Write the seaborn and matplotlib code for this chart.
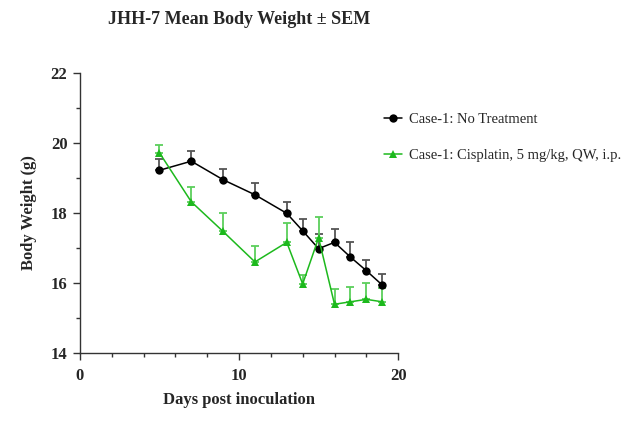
import numpy as np
import pandas as pd
import matplotlib
matplotlib.use("Agg")
import matplotlib.pyplot as plt
import seaborn as sns

# values
days = [5, 7, 9, 11, 13, 14, 15, 16, 17, 18, 19]
ctrl_mean = [19.22, 19.48, 18.95, 18.52, 17.99, 17.49, 16.98, 17.16, 16.74, 16.35, 15.94]
ctrl_sem = [0.31, 0.30, 0.30, 0.33, 0.33, 0.34, 0.41, 0.37, 0.44, 0.30, 0.32]
cis_mean = [19.72, 18.32, 17.47, 16.60, 17.16, 15.97, 17.29, 15.39, 15.46, 15.53, 15.46]
cis_sem = [0.22, 0.43, 0.52, 0.46, 0.56, 0.26, 0.59, 0.45, 0.41, 0.48, 0.40]

groups = ["Case-1: No Treatment", "Case-1: Cisplatin, 5 mg/kg, QW, i.p."]
colors = ["#000000", "#1DB91D"]
bar_colors = ["#555555", "#5CCF5C"]
markers = ["o", "^"]

df = pd.concat([
    pd.DataFrame({"day": days, "weight": ctrl_mean, "sem": ctrl_sem, "group": groups[0]}),
    pd.DataFrame({"day": days, "weight": cis_mean, "sem": cis_sem, "group": groups[1]}),
], ignore_index=True)

sns.set_style("ticks")
plt.rcParams["font.family"] = ["Liberation Serif", "DejaVu Serif"]

fig = plt.figure(figsize=(6.29, 4.4), dpi=100)
ax = fig.add_axes([0.127, 0.198, 0.506, 0.636])

# upper-only error bars first so lines sit on top
for g, bc in zip(groups, bar_colors):
    sub = df[df["group"] == g]
    ax.errorbar(sub["day"], sub["weight"], yerr=[np.zeros(len(sub)), sub["sem"]],
                fmt="none", ecolor=bc, elinewidth=1.3, capsize=3, capthick=1.3, zorder=2)

sns.lineplot(data=df, x="day", y="weight", hue="group", style="group",
             palette=dict(zip(groups, colors)), markers=dict(zip(groups, markers)),
             dashes=False, markersize=6, markeredgewidth=0, linewidth=1.1,
             ax=ax, zorder=3)

ax.set_xlim(0, 20)
ax.set_ylim(14, 22)
ax.set_xticks([0, 10, 20])
ax.set_xticks(np.arange(0, 21, 2), minor=True)
ax.set_yticks([14, 16, 18, 20, 22])
ax.set_yticks(np.arange(15, 22, 2), minor=True)
for s in ["left", "bottom"]:
    ax.spines[s].set_color("#333333")
    ax.spines[s].set_linewidth(1.0)
sns.despine(ax=ax)
ax.tick_params(axis="both", which="major", length=5, width=1.0, color="#333333",
               labelsize=12, pad=4)
ax.tick_params(axis="x", which="major", pad=6)
ax.tick_params(axis="both", which="minor", length=3, width=1.0, color="#333333")
for lab in ax.get_xticklabels() + ax.get_yticklabels():
    lab.set_fontweight("bold")

ax.set_xlabel("Days post inoculation", fontsize=12, fontweight="bold", labelpad=6)
ax.set_ylabel("Body Weight (g)", fontsize=12, fontweight="bold", labelpad=10)
ax.set_title("JHH-7 Mean Body Weight \u00b1 SEM", fontsize=13, fontweight="bold", pad=35)

handles, labels = ax.get_legend_handles_labels()
ax.get_legend().remove()
fig.legend(handles, labels, loc="upper left", bbox_to_anchor=(0.601, 0.757),
           frameon=False, fontsize=10.5, handlelength=1.25, handletextpad=0.5,
           labelspacing=1.55, borderaxespad=0)

fig.savefig("out.png", dpi=100)
